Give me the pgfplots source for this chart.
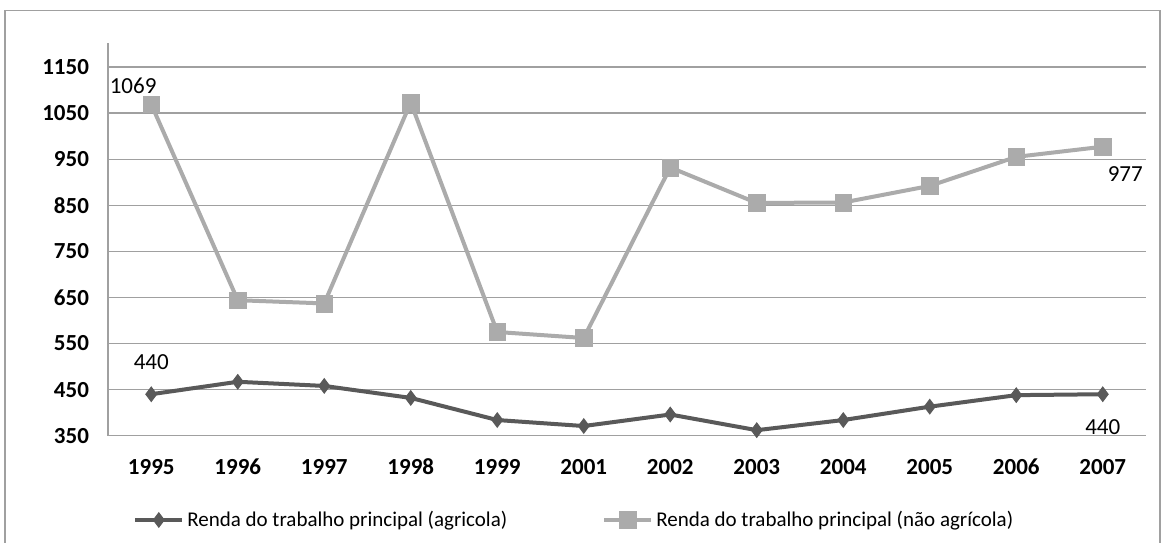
\documentclass[border=0pt]{standalone}
\usepackage{fontspec}
\setmainfont{Carlito}
\usepackage{pgfplots}
\pgfplotsset{compat=1.18}

\definecolor{agri}{HTML}{595959}
\definecolor{naoagri}{HTML}{ABABAB}
\definecolor{gridc}{HTML}{A0A0A0}

\begin{document}
\begin{tikzpicture}
% page = 1161 x 542 px at 0.5pt per px
\useasboundingbox (0pt,0pt) rectangle (580.5pt,-271pt);
\draw[gridc, line width=0.8pt] (2.5pt,-5.3pt) rectangle (580pt,-290pt);
\begin{axis}[
  at={(54pt,-217.85pt)}, anchor=south west,
  scale only axis,
  width=519pt, height=196.35pt,
  xmin=-0.5, xmax=11.5,
  ymin=350, ymax=1202,
  xtick={0,...,11},
  xticklabels={1995,1996,1997,1998,1999,2001,2002,2003,2004,2005,2006,2007},
  ytick={350,450,...,1150},
  axis x line*=bottom, axis y line*=left,
  axis line style={gridc, line width=0.6pt, -},
  ymajorgrids,
  grid style={gridc, line width=0.6pt},
  major tick length=0pt,
  tick label style={font=\fontsize{11.5}{13}\selectfont\bfseries, text=black},
  xticklabel style={anchor=north, text height=8pt, text depth=0pt, yshift=-8pt},
  yticklabel style={xshift=-6pt},
  /pgf/number format/assume math mode=true,
  /pgf/number format/1000 sep={},
  legend columns=2,
  legend style={at={(rel axis cs:0.024,-0.2147)}, anchor=west, draw=none,
    fill=none, inner sep=0pt, font=\fontsize{10.5}{12}\selectfont,
    /tikz/every even column/.style={column sep=46pt},
    nodes={inner sep=1.5pt}},
  legend image code/.code={%
    \draw[#1, mark repeat=2, mark phase=2]
      plot coordinates {(0pt,0pt) (11.75pt,0pt) (23.5pt,0pt)};},
  clip=false,
]
\addplot[color=agri, line width=2pt, mark=diamond*, mark size=3.6pt,
         mark options={solid, fill=agri, draw=agri, line width=0.5pt}]
  coordinates {
    (0,440) (1,467) (2,458) (3,432) (4,384) (5,371)
    (6,396) (7,362) (8,384) (9,413) (10,438) (11,440)};
\addlegendentry{Renda do trabalho principal (agricola)}

\addplot[color=naoagri, line width=2pt, mark=square*, mark size=4.2pt,
         mark options={solid, fill=naoagri, draw=naoagri, line width=0.3pt}]
  coordinates {
    (0,1069) (1,644) (2,637) (3,1073) (4,575) (5,562)
    (6,932) (7,855) (8,856) (9,892) (10,955) (11,977)};
\addlegendentry{Renda do trabalho principal (não agrícola)}

\begin{scope}[every node/.style={font=\fontsize{11.5}{13}\selectfont, text=black, inner sep=0pt}]
\node at (axis cs:-0.21,1110) {1069};
\node at (axis cs:0,509) {440};
\node at (axis cs:11.26,918) {977};
\node at (axis cs:11,369) {440};
\end{scope}
\end{axis}
\end{tikzpicture}
\end{document}
